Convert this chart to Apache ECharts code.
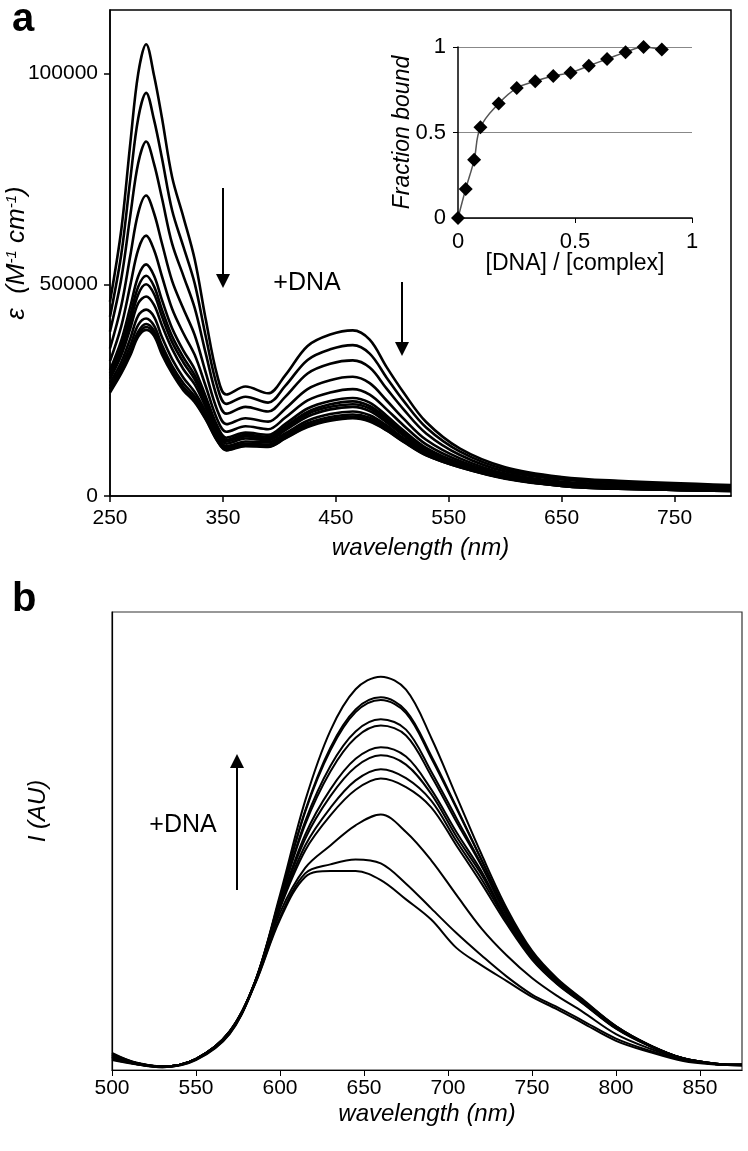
<!DOCTYPE html>
<html><head><meta charset="utf-8">
<script src="https://cdn.jsdelivr.net/npm/echarts@6/dist/echarts.min.js"></script>
<style>html,body{margin:0;padding:0;background:#fff}#c{width:748px;height:1151px}</style>
</head><body><div id="c"></div><script>
// ---------- Panel a : absorption spectra ----------
const wlA = [250, 260, 268, 275, 282, 289, 296, 305, 315, 325, 335, 345, 353, 370, 390, 405, 425, 445, 465, 480, 495, 510, 530, 560, 600, 650, 700, 800];
const epsA01 = [46000, 63000, 83500, 100000, 106900, 99500, 89500, 75500, 66000, 56000, 41500, 28500, 24000, 25900, 24300, 28500, 35500, 38200, 39200, 37000, 30500, 24500, 17500, 11200, 6800, 4500, 3600, 2600];
const epsA02 = [42400, 57200, 75000, 89400, 95400, 89000, 80000, 67600, 59000, 50300, 37500, 25900, 21800, 23500, 22100, 26000, 32200, 34700, 35700, 33700, 28000, 22500, 16200, 10500, 6300, 4200, 3300, 2400];
const epsA03 = [38900, 51400, 66400, 78800, 83900, 78600, 70500, 59700, 52100, 44500, 33500, 23200, 19500, 21100, 20000, 23400, 29000, 31300, 32100, 30400, 25400, 20500, 14800, 9700, 5800, 3900, 3000, 2100];
const epsA04 = [34900, 45000, 56900, 67000, 71100, 66900, 59800, 50900, 44300, 38100, 29000, 20300, 17000, 18400, 17600, 20600, 25300, 27400, 28200, 26700, 22600, 18300, 13300, 8900, 5300, 3400, 2600, 1900];
const epsA05 = [31900, 40200, 49900, 58300, 61600, 58200, 52000, 44300, 38500, 33400, 25800, 18100, 15200, 16500, 15800, 18500, 22600, 24500, 25300, 24000, 20500, 16700, 12200, 8300, 5000, 3100, 2400, 1700];
const epsA06 = [29800, 36800, 44800, 52000, 54800, 52100, 46400, 39700, 34400, 30000, 23400, 16600, 13800, 15000, 14500, 17000, 20700, 22500, 23200, 22100, 19000, 15500, 11400, 7800, 4700, 2900, 2200, 1500];
const epsA07 = [29000, 35500, 42800, 49500, 52100, 49600, 44100, 37800, 32800, 28600, 22500, 15900, 13300, 14500, 14000, 16400, 19900, 21700, 22400, 21300, 18400, 15000, 11100, 7600, 4600, 2800, 2100, 1500];
const epsA08 = [28400, 34400, 41300, 47700, 50100, 47800, 42500, 36400, 31600, 27600, 21800, 15500, 12900, 14100, 13600, 16000, 19400, 21100, 21700, 20700, 17900, 14700, 10900, 7500, 4500, 2800, 2000, 1400];
const epsA09 = [27700, 33300, 39700, 45600, 47200, 45200, 40400, 34800, 30000, 26400, 20900, 14900, 12400, 13600, 13200, 15500, 18800, 20500, 21100, 20100, 17400, 14300, 10600, 7300, 4500, 2700, 2000, 1400];
const epsA10 = [26800, 31700, 37300, 42700, 44100, 42400, 37600, 32400, 28000, 24600, 19800, 14200, 11800, 12900, 12700, 14800, 17800, 19400, 20000, 19100, 16700, 13700, 10300, 7200, 4400, 2600, 1900, 1300];
const epsA11 = [26000, 30600, 35600, 40500, 42000, 40300, 35700, 30800, 26700, 23600, 19000, 13600, 11400, 12400, 12200, 14300, 17200, 18700, 19300, 18500, 16200, 13300, 10000, 7000, 4300, 2500, 1800, 1300];
const epsA12 = [25400, 29700, 34300, 38900, 40700, 39100, 34600, 29900, 25800, 22900, 18500, 13300, 11100, 12100, 11900, 13900, 16700, 18200, 18800, 18000, 15800, 13000, 9800, 6900, 4200, 2400, 1700, 1200];
const epsA13 = [24500, 29000, 33300, 37700, 39300, 37900, 33500, 29000, 25000, 22200, 18000, 13000, 10800, 11800, 11600, 13600, 16300, 17800, 18400, 17600, 15500, 12800, 9600, 6800, 4100, 2400, 1700, 1200];
const epsA14 = [25200, 29300, 33800, 38300, 40000, 38500, 34000, 29400, 25400, 22500, 18200, 13100, 10900, 12000, 11700, 13700, 16500, 18000, 18600, 17800, 15600, 12900, 9700, 6800, 4200, 2400, 1700, 1200];
const spectraA = [epsA01, epsA02, epsA03, epsA04, epsA05, epsA06, epsA07, epsA08, epsA09, epsA10, epsA11, epsA12, epsA13, epsA14];
const ticksAx = [250, 350, 450, 550, 650, 750];
const ticksAy = [0, 50000, 100000];

// ---------- Inset : fraction bound ----------
const ratioDNA = [0, 0.033, 0.069, 0.096, 0.174, 0.251, 0.33, 0.407, 0.481, 0.559, 0.637, 0.716, 0.793, 0.871];
const fracBound = [0, 0.17, 0.34, 0.53, 0.67, 0.76, 0.80, 0.83, 0.85, 0.89, 0.93, 0.97, 1.0, 0.985];

// ---------- Panel b : emission spectra ----------
const wlB = [500, 515, 530, 550, 570, 585, 600, 615, 630, 645, 660, 675, 690, 705, 720, 735, 750, 765, 780, 800, 820, 840, 860, 875];
const emB01 = [2.2, 1.2, 0.6, 2.2, 8.0, 19.0, 33.5, 43.0, 44.3, 44.3, 42.3, 38.0, 33.5, 27.2, 23.3, 19.8, 16.3, 13.5, 10.5, 6.5, 4.0, 2.0, 1.2, 1.0];
const emB02 = [2.4, 1.3, 0.6, 2.3, 8.1, 19.1, 34.0, 43.8, 45.8, 46.9, 46.0, 41.5, 36.0, 30.5, 25.5, 20.8, 16.8, 14.0, 11.0, 7.0, 4.3, 2.2, 1.3, 1.0];
const emB03 = [2.8, 1.3, 0.7, 2.4, 8.2, 19.2, 35.0, 45.0, 50.0, 54.5, 56.9, 53.0, 46.7, 39.0, 31.5, 25.5, 20.5, 16.5, 13.0, 8.0, 4.8, 2.4, 1.3, 1.1];
const emB04 = [3.0, 1.4, 0.7, 2.4, 8.3, 19.3, 36.0, 48.9, 56.7, 62.4, 64.9, 63.0, 58.5, 50.0, 41.5, 32.5, 24.6, 19.1, 14.9, 9.2, 5.3, 2.5, 1.3, 1.1];
const emB05 = [3.2, 1.5, 0.7, 2.4, 8.4, 19.3, 36.3, 50.0, 58.4, 64.5, 67.0, 65.0, 60.0, 51.0, 42.5, 33.0, 24.8, 19.2, 15.0, 9.3, 5.4, 2.5, 1.3, 1.1];
const emB06 = [2.6, 1.3, 0.8, 2.5, 8.4, 19.4, 36.7, 51.5, 61.0, 67.5, 70.1, 68.0, 61.5, 52.0, 43.5, 33.3, 25.0, 19.4, 15.1, 9.3, 5.4, 2.5, 1.3, 1.1];
const emB07 = [3.4, 1.5, 0.8, 2.5, 8.5, 19.4, 37.0, 52.4, 62.5, 69.3, 71.9, 69.8, 62.5, 53.0, 44.2, 33.6, 25.2, 19.5, 15.2, 9.4, 5.4, 2.5, 1.3, 1.1];
const emB08 = [3.0, 1.4, 0.8, 2.5, 8.5, 19.5, 37.6, 54.7, 66.5, 74.0, 76.7, 74.5, 65.5, 55.3, 45.4, 34.3, 25.6, 19.8, 15.4, 9.5, 5.5, 2.6, 1.4, 1.1];
const emB09 = [3.6, 1.6, 0.8, 2.5, 8.6, 19.5, 37.8, 55.4, 67.7, 75.4, 78.1, 75.8, 66.5, 56.1, 45.7, 34.5, 25.7, 19.9, 15.4, 9.5, 5.5, 2.6, 1.4, 1.2];
const emB10 = [2.9, 1.4, 0.8, 2.5, 8.6, 19.5, 38.3, 57.5, 71.2, 79.7, 82.4, 79.5, 69.5, 58.3, 46.7, 35.2, 26.1, 20.1, 15.6, 9.7, 5.5, 2.6, 1.4, 1.2];
const emB11 = [3.3, 1.5, 0.8, 2.5, 8.6, 19.6, 38.4, 57.8, 71.8, 80.3, 83.0, 80.0, 70.0, 58.6, 46.8, 35.3, 26.2, 20.1, 15.6, 9.7, 5.5, 2.6, 1.4, 1.2];
const emB12 = [3.8, 1.5, 0.8, 2.5, 8.5, 19.5, 39.0, 60.0, 75.6, 84.8, 87.6, 84.7, 74.0, 61.0, 48.0, 36.0, 26.6, 20.4, 15.8, 9.8, 5.6, 2.6, 1.4, 1.2];
const spectraB = [emB01, emB02, emB03, emB04, emB05, emB06, emB07, emB08, emB09, emB10, emB11, emB12];
const ticksBx = [500, 550, 600, 650, 700, 750, 800, 850];

// ---------- chart ----------
const FONT = "'Liberation Sans', Arial, sans-serif";
const chart = echarts.init(document.getElementById('c'), null, {renderer: 'canvas'});
const blk = '#000';
const series = [];
spectraA.forEach((arr) => series.push({
  type: 'line', xAxisIndex: 0, yAxisIndex: 0, smooth: 0.35, showSymbol: false, silent: true,
  lineStyle: {color: blk, width: 2.6}, data: wlA.map((w, i) => [w, arr[i]]), z: 3
}));
series.push({
  type: 'line', xAxisIndex: 1, yAxisIndex: 1, smooth: 0.4, clip: false, symbol: 'diamond', symbolSize: 14,
  itemStyle: {color: blk}, lineStyle: {color: '#555', width: 1.5}, data: ratioDNA.map((x, i) => [x, fracBound[i]]), z: 5
});
spectraB.forEach((arr) => series.push({
  type: 'line', xAxisIndex: 2, yAxisIndex: 2, smooth: 0.35, showSymbol: false, silent: true,
  lineStyle: {color: blk, width: 2}, data: wlB.map((w, i) => [w, arr[i]]), z: 3
}));

const lbl = (size) => ({color: blk, fontSize: size, fontFamily: FONT, formatter: (v) => String(v)});
const arrow = (x, y1, y2, dir) => {
  const h = 14, w = 7;
  const tip = y2, base = y2 - dir * h;
  return [
    {type: 'line', shape: {x1: x, y1: y1, x2: x, y2: base}, style: {stroke: blk, lineWidth: 2}},
    {type: 'polygon', shape: {points: [[x - w, base], [x + w, base], [x, tip]]}, style: {fill: blk}}
  ];
};

chart.setOption({
  animation: false,
  backgroundColor: '#fff',
  textStyle: {fontFamily: FONT},
  grid: [
    {left: 110, top: 10, width: 621, height: 486, show: true, borderColor: blk, borderWidth: 1.5, outerBoundsMode: 'none'},
    {left: 458, top: 47, width: 234, height: 171, outerBoundsMode: 'none'},
    {left: 112, top: 612, width: 630, height: 458, show: true, borderColor: '#333', borderWidth: 1.2, outerBoundsMode: 'none'}
  ],
  xAxis: [
    {type: 'value', gridIndex: 0, min: 250, max: 800,
     axisLine: {show: true, lineStyle: {color: blk, width: 1.5}},
     axisTick: {show: true, length: 6, customValues: ticksAx, lineStyle: {color: blk, width: 1.5}},
     axisLabel: Object.assign(lbl(21), {customValues: ticksAx, margin: 12}),
     splitLine: {show: false},
     name: 'wavelength (nm)', nameLocation: 'middle', nameGap: 40, nameMoveOverlap: false,
     nameTextStyle: {color: blk, fontSize: 24, fontStyle: 'italic', fontFamily: FONT}},
    {type: 'value', gridIndex: 1, min: 0, max: 1, interval: 0.5,
     axisLine: {show: true, onZero: false, lineStyle: {color: blk, width: 1.5}},
     axisTick: {show: true, length: 5, lineStyle: {color: blk}},
     axisLabel: Object.assign(lbl(22), {margin: 13}),
     splitLine: {show: false},
     name: '[DNA] / [complex]', nameLocation: 'middle', nameGap: 34, nameMoveOverlap: false,
     nameTextStyle: {color: blk, fontSize: 23, fontFamily: FONT}},
    {type: 'value', gridIndex: 2, min: 500, max: 875,
     axisLine: {show: true, lineStyle: {color: blk, width: 1.2}},
     axisTick: {show: true, length: 6, customValues: ticksBx, lineStyle: {color: blk}},
     axisLabel: Object.assign(lbl(21), {customValues: ticksBx, margin: 8}),
     splitLine: {show: false},
     name: 'wavelength (nm)', nameLocation: 'middle', nameGap: 32, nameMoveOverlap: false,
     nameTextStyle: {color: blk, fontSize: 24, fontStyle: 'italic', fontFamily: FONT}}
  ],
  yAxis: [
    {type: 'value', gridIndex: 0, min: 0, max: 115000,
     axisLine: {show: true, lineStyle: {color: blk, width: 1.5}},
     axisTick: {show: true, length: 6, customValues: ticksAy, lineStyle: {color: blk, width: 1.5}},
     axisLabel: Object.assign(lbl(21), {customValues: ticksAy, margin: 12}),
     splitLine: {show: false},
     name: '{t|ε  (M}{s|-1}{t| cm}{s|-1}{t|)}', nameLocation: 'middle', nameGap: 80, nameMoveOverlap: false,
     nameTextStyle: {color: blk, fontSize: 26, fontStyle: 'italic', fontFamily: FONT,
       rich: {t: {fontSize: 26, fontStyle: 'italic', fontFamily: FONT, color: blk},
              s: {fontSize: 15, fontStyle: 'italic', fontFamily: FONT, color: blk, verticalAlign: 'top'}}}},
    {type: 'value', gridIndex: 1, min: 0, max: 1, interval: 0.5,
     axisLine: {show: true, onZero: false, lineStyle: {color: blk, width: 1.5}},
     axisTick: {show: true, length: 5, lineStyle: {color: blk}},
     axisLabel: Object.assign(lbl(22), {margin: 12}),
     splitLine: {show: true, lineStyle: {color: '#888', width: 1}},
     name: 'Fraction bound', nameLocation: 'middle', nameGap: 44, nameMoveOverlap: false,
     nameTextStyle: {color: blk, fontSize: 23, fontStyle: 'italic', fontFamily: FONT}},
    {type: 'value', gridIndex: 2, min: 0, max: 102,
     axisLine: {show: true, lineStyle: {color: blk, width: 1.2}},
     axisTick: {show: false}, axisLabel: {show: false}, splitLine: {show: false},
     name: 'I (AU)', nameLocation: 'middle', nameGap: 62, nameMoveOverlap: false,
     nameTextStyle: {color: blk, fontSize: 24, fontStyle: 'italic', fontFamily: FONT, padding: [0, 0, 0, 60]}}
  ],
  graphic: [
    {type: 'text', left: 12, top: 0, style: {text: 'a', font: 'bold 40px ' + FONT, fill: blk}},
    {type: 'text', left: 12, top: 580, style: {text: 'b', font: 'bold 40px ' + FONT, fill: blk}},
    {type: 'text', x: 307, y: 283, style: {text: '+DNA', font: '25px ' + FONT, fill: blk, textAlign: 'center', textVerticalAlign: 'middle'}},
    {type: 'text', x: 183, y: 825, style: {text: '+DNA', font: '25px ' + FONT, fill: blk, textAlign: 'center', textVerticalAlign: 'middle'}},
    ...arrow(223, 188, 288, 1),
    ...arrow(402, 282, 356, 1),
    ...arrow(237, 890, 754, -1)
  ],
  series: series
});
</script></body></html>
